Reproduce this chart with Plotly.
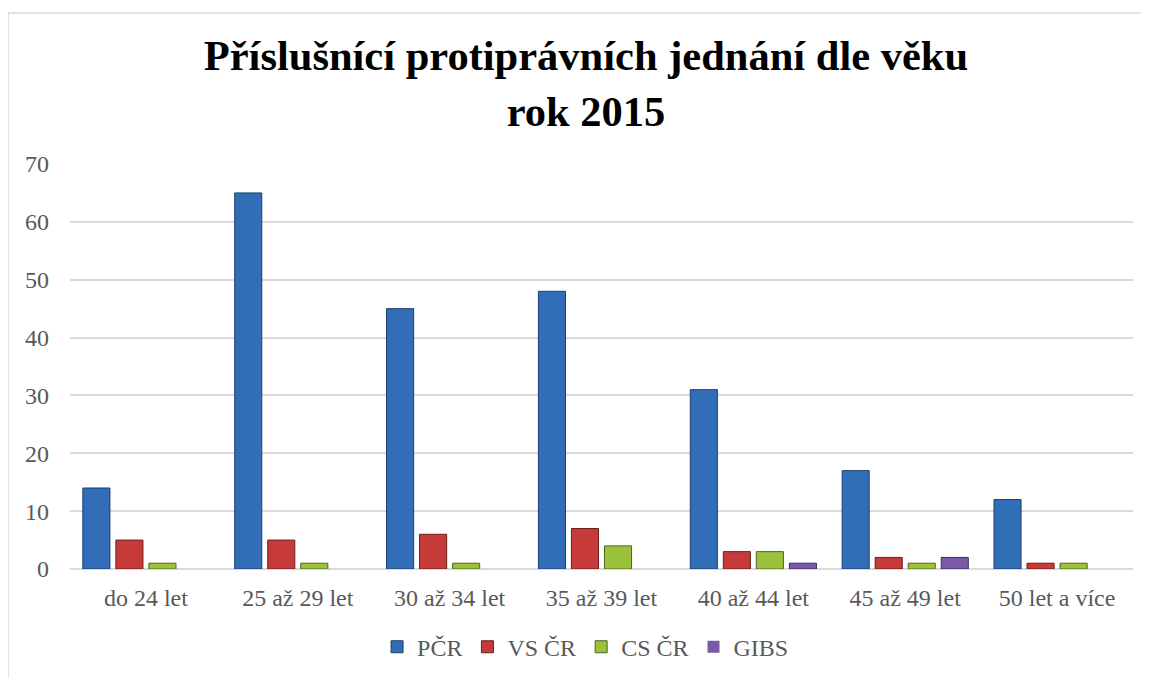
import plotly.graph_objects as go

categories = ["do 24 let", "25 až 29 let", "30 až 34 let", "35 až 39 let",
              "40 až 44 let", "45 až 49 let", "50 let a více"]
pcr = [14, 65, 45, 48, 31, 17, 12]
vs_cr = [5, 5, 6, 7, 3, 2, 1]
cs_cr = [1, 1, 1, 4, 3, 1, 1]
gibs = [0, 0, 0, 0, 1, 2, 0]

SERIF = '"Liberation Serif", "Times New Roman", Times, serif'

series = [
    ("PČR", pcr, "#326DB8", "#1B3F6E"),
    ("VS ČR", vs_cr, "#C73A3A", "#6E1C1C"),
    ("CS ČR", cs_cr, "#9BC23C", "#4E6420"),
    ("GIBS", gibs, "#7A5AA8", "#3E2B5C"),
]

fig = go.Figure()
for name, vals, color, edge in series:
    # no outline on empty bars, otherwise a flat stub shows at zero
    widths = [0 if v == 0 else 1 for v in vals]
    fig.add_trace(go.Bar(
        x=categories, y=vals, name=name,
        marker=dict(color=color, line=dict(color=edge, width=widths)),
    ))

# chart frame (left and top edges visible in the screenshot)
fig.add_shape(type="line", xref="paper", yref="paper",
              x0=-0.0583, x1=1.05, y0=1.373, y1=1.373,
              line=dict(color="#D9D9D9", width=1.5))
fig.add_shape(type="line", xref="paper", yref="paper",
              x0=-0.0583, x1=-0.0583, y0=1.373, y1=-0.3,
              line=dict(color="#D9D9D9", width=1.5))

fig.update_layout(
    width=1149, height=678,
    margin=dict(l=62, r=24, t=156, b=117),
    paper_bgcolor="white", plot_bgcolor="white",
    font=dict(family=SERIF, color="#595959", size=24),
    title=dict(
        text="<b>Příslušnící protiprávních jednání dle věku<br>rok 2015</b>",
        x=0.503, xanchor="center", y=0.908, yanchor="middle",
        font=dict(family=SERIF, size=42.5, color="black"),
    ),
    barmode="group", bargap=0.13, bargroupgap=0.18,
    legend=dict(orientation="h", x=0.485, xanchor="center", y=-0.193,
                yanchor="middle", font=dict(family=SERIF, size=24, color="#595959"),
                itemwidth=30, tracegroupgap=0),
    showlegend=True,
)
fig.update_yaxes(range=[0, 70], dtick=10, showgrid=True, gridcolor="#D9D9D9",
                 gridwidth=1.5, zeroline=True, zerolinecolor="#D9D9D9",
                 zerolinewidth=1.5, ticks="", ticklabelstandoff=20,
                 tickfont=dict(family=SERIF, size=24, color="#595959"))
fig.update_xaxes(showline=False, ticks="", ticklabelstandoff=12,
                 tickfont=dict(family=SERIF, size=24, color="#595959"))

fig.write_html("out.html")
